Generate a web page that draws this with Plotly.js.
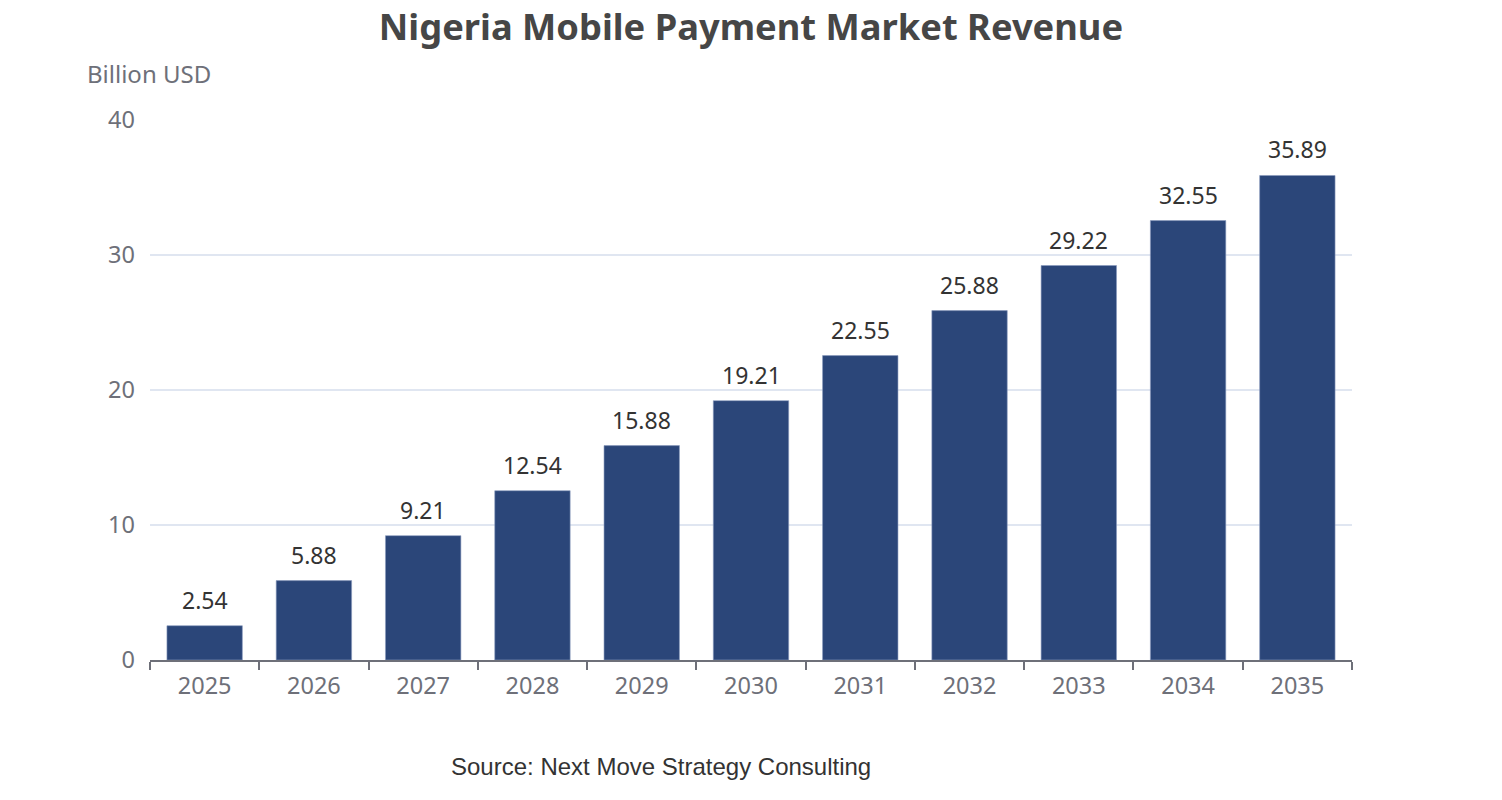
<!DOCTYPE html>
<html>
<head>
<meta charset="utf-8">
<script src="https://cdn.plot.ly/plotly-3.0.1.min.js"></script>
<style>
  html, body { margin: 0; padding: 0; background: #fff; }
  #chart { width: 1502px; height: 800px; }
</style>
</head>
<body>
<div id="chart"></div>
<script>
// values
const years = ["2025", "2026", "2027", "2028", "2029", "2030", "2031", "2032", "2033", "2034", "2035"];
const revenue = [2.54, 5.88, 9.21, 12.54, 15.88, 19.21, 22.55, 25.88, 29.22, 32.55, 35.89];

const axisGrey = "#6e7079";
const font = "'Microsoft YaHei', 'Noto Sans', 'Open Sans', sans-serif";

// value labels above the bars (x as category index)
const valueLabels = revenue.map((v, i) => ({
  x: i, y: v,
  xref: "x", yref: "y",
  text: v.toFixed(2),
  showarrow: false,
  yanchor: "bottom",
  yshift: 8,
  font: { size: 23, color: "#333333", family: font }
}));

Plotly.newPlot("chart", [{
  x: years,
  y: revenue,
  type: "bar",
  marker: { color: "#2b4679", line: { color: "#8a9bbd", width: 0.6 } },
  hoverinfo: "x+y"
}], {
  width: 1502,
  height: 800,
  margin: { t: 120, l: 150, r: 150, b: 140 },
  paper_bgcolor: "#ffffff",
  plot_bgcolor: "#ffffff",
  bargap: 0.31,
  showlegend: false,
  title: {
    text: "<b>Nigeria Mobile Payment Market Revenue</b>",
    x: 0.5, xanchor: "center",
    y: 0.966, yanchor: "middle",
    font: { size: 36.3, color: "#464646", family: font }
  },
  xaxis: {
    type: "category",
    showline: true,
    linecolor: axisGrey,
    linewidth: 2,
    ticks: "outside",
    tickson: "boundaries",
    ticklen: 8,
    tickwidth: 2,
    tickcolor: axisGrey,
    ticklabelstandoff: 4,
    tickangle: 0,
    tickfont: { size: 23.5, color: axisGrey, family: font },
    showgrid: false,
    fixedrange: true
  },
  yaxis: {
    range: [0, 40],
    dtick: 10,
    showline: false,
    zeroline: false,
    gridcolor: "#e0e6f1",
    gridwidth: 1.5,
    tickfont: { size: 23.5, color: axisGrey, family: font },
    ticklabelstandoff: 14,
    fixedrange: true
  },
  annotations: valueLabels.concat([
    {
      text: "Billion USD",
      xref: "paper", yref: "paper",
      x: -0.054, y: 1.0, xanchor: "left", yanchor: "bottom",
      yshift: 28,
      showarrow: false,
      font: { size: 24, color: axisGrey, family: font }
    },
    {
      text: "Source: Next Move Strategy Consulting",
      xref: "paper", yref: "paper",
      x: 0.425, y: 0, xanchor: "center", yanchor: "middle",
      yshift: -106,
      showarrow: false,
      font: { size: 24, color: "#333333", family: "Arial, 'Liberation Sans', sans-serif" }
    }
  ])
}, { displayModeBar: false, staticPlot: true });
</script>
</body>
</html>
